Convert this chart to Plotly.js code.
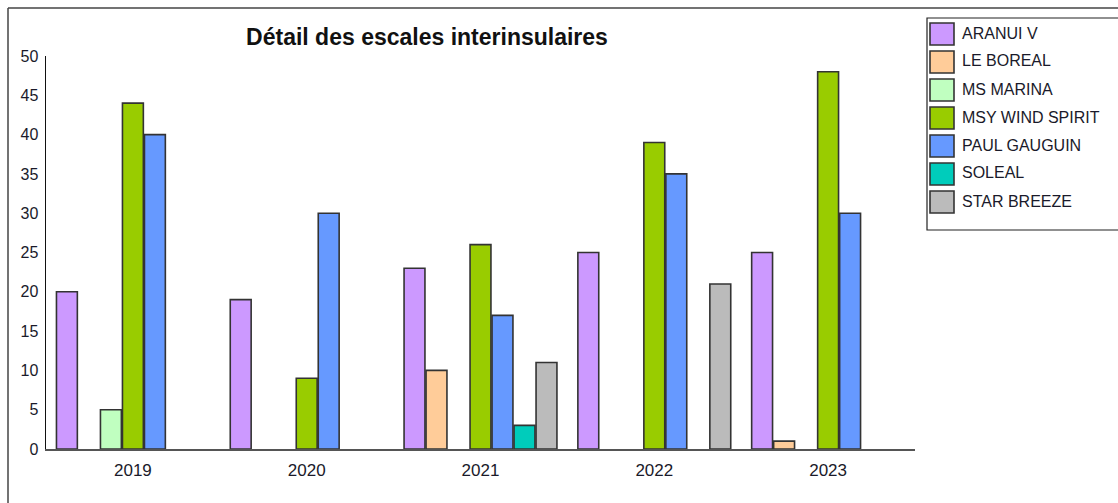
<!DOCTYPE html>
<html>
<head>
<meta charset="utf-8">
<script src="https://cdn.plot.ly/plotly-3.0.1.min.js"></script>
<style>html,body{margin:0;padding:0;background:#fff;}#chart{width:1118px;height:503px;}</style>
</head>
<body>
<div id="chart"></div>
<script>
const years = ["2019", "2020", "2021", "2022", "2023"];
const ships = ["ARANUI V", "LE BOREAL", "MS MARINA", "MSY WIND SPIRIT", "PAUL GAUGUIN", "SOLEAL", "STAR BREEZE"];
const aranuiV      = [20, 19, 23, 25, 25];
const leBoreal     = [0, 0, 10, 0, 1];
const msMarina     = [5, 0, 0, 0, 0];
const msyWindSpirit= [44, 9, 26, 39, 48];
const paulGauguin  = [40, 30, 17, 35, 30];
const soleal       = [0, 0, 3, 0, 0];
const starBreeze   = [0, 0, 11, 21, 0];
const yTicks = [0, 5, 10, 15, 20, 25, 30, 35, 40, 45, 50];

const seriesValues = [aranuiV, leBoreal, msMarina, msyWindSpirit, paulGauguin, soleal, starBreeze];
const colors = ["#CC99FF", "#FFCC99", "#C0FFC0", "#99CC00", "#6699FF", "#00CCBB", "#BBBBBB"];

const W = 1118, H = 503;
const M = {l: 46, r: 203, t: 56, b: 54};
const PW = W - M.l - M.r, PH = H - M.t - M.b;
const px = x => (x - M.l) / PW;
const py = y => 1 - (y - M.t) / PH;

const traces = ships.map((name, i) => ({
  type: "bar",
  name: name,
  x: years,
  y: seriesValues[i],
  marker: {color: colors[i], line: {color: "#333333", width: seriesValues[i].map(v => v === 0 ? 0 : 1.6)}},
  showlegend: false,
  hoverinfo: "x+y+name"
}));

const shapes = [
  {type: "line", xref: "paper", yref: "paper", x0: px(8), x1: px(1125), y0: py(8), y1: py(8), line: {color: "#444", width: 1.5}},
  {type: "line", xref: "paper", yref: "paper", x0: px(8), x1: px(8), y0: py(8), y1: py(510), line: {color: "#444", width: 1.5}},
  {type: "rect", xref: "paper", yref: "paper", x0: px(927), x1: px(1125), y0: py(18), y1: py(230), line: {color: "#222", width: 1.2}, fillcolor: "rgba(0,0,0,0)"}
];
const annotations = [];
ships.forEach((name, i) => {
  const cy = 34 + 28 * i;
  shapes.push({type: "rect", xref: "paper", yref: "paper", x0: px(930), x1: px(954), y0: py(cy - 11), y1: py(cy + 11), fillcolor: colors[i], line: {color: "#333", width: 1.6}});
  annotations.push({xref: "paper", yref: "paper", x: px(960), y: py(cy - 1), xanchor: "left", yanchor: "middle", showarrow: false, text: name, font: {family: "Liberation Sans", size: 16, color: "#1a1a2a"}});
});

const layout = {
  width: W, height: H,
  margin: M,
  paper_bgcolor: "#fff", plot_bgcolor: "#fff",
  title: {text: "Détail des escales interinsulaires", xref: "container", yref: "container", x: 427 / W, y: 1 - 37 / H, xanchor: "center", yanchor: "middle", font: {family: "Liberation Sans", size: 23, color: "#111", weight: "bold"}},
  barmode: "group",
  bargap: 0.114,
  bargroupgap: 0.05,
  xaxis: {type: "category", showgrid: false, zeroline: false, showline: true, linecolor: "#555", linewidth: 1.5, ticks: "", ticklabelstandoff: 5, tickfont: {family: "Liberation Sans", size: 17, color: "#1a1a2a"}},
  yaxis: {range: [0, 50], tickvals: yTicks, showgrid: false, zeroline: false, showline: true, linecolor: "#111", linewidth: 1.5, ticks: "", ticklabelstandoff: 3, tickfont: {family: "Liberation Sans", size: 16, color: "#1a1a2a"}},
  shapes: shapes,
  annotations: annotations,
  showlegend: false
};

Plotly.newPlot("chart", traces, layout, {displayModeBar: false, staticPlot: true});
</script>
</body>
</html>
